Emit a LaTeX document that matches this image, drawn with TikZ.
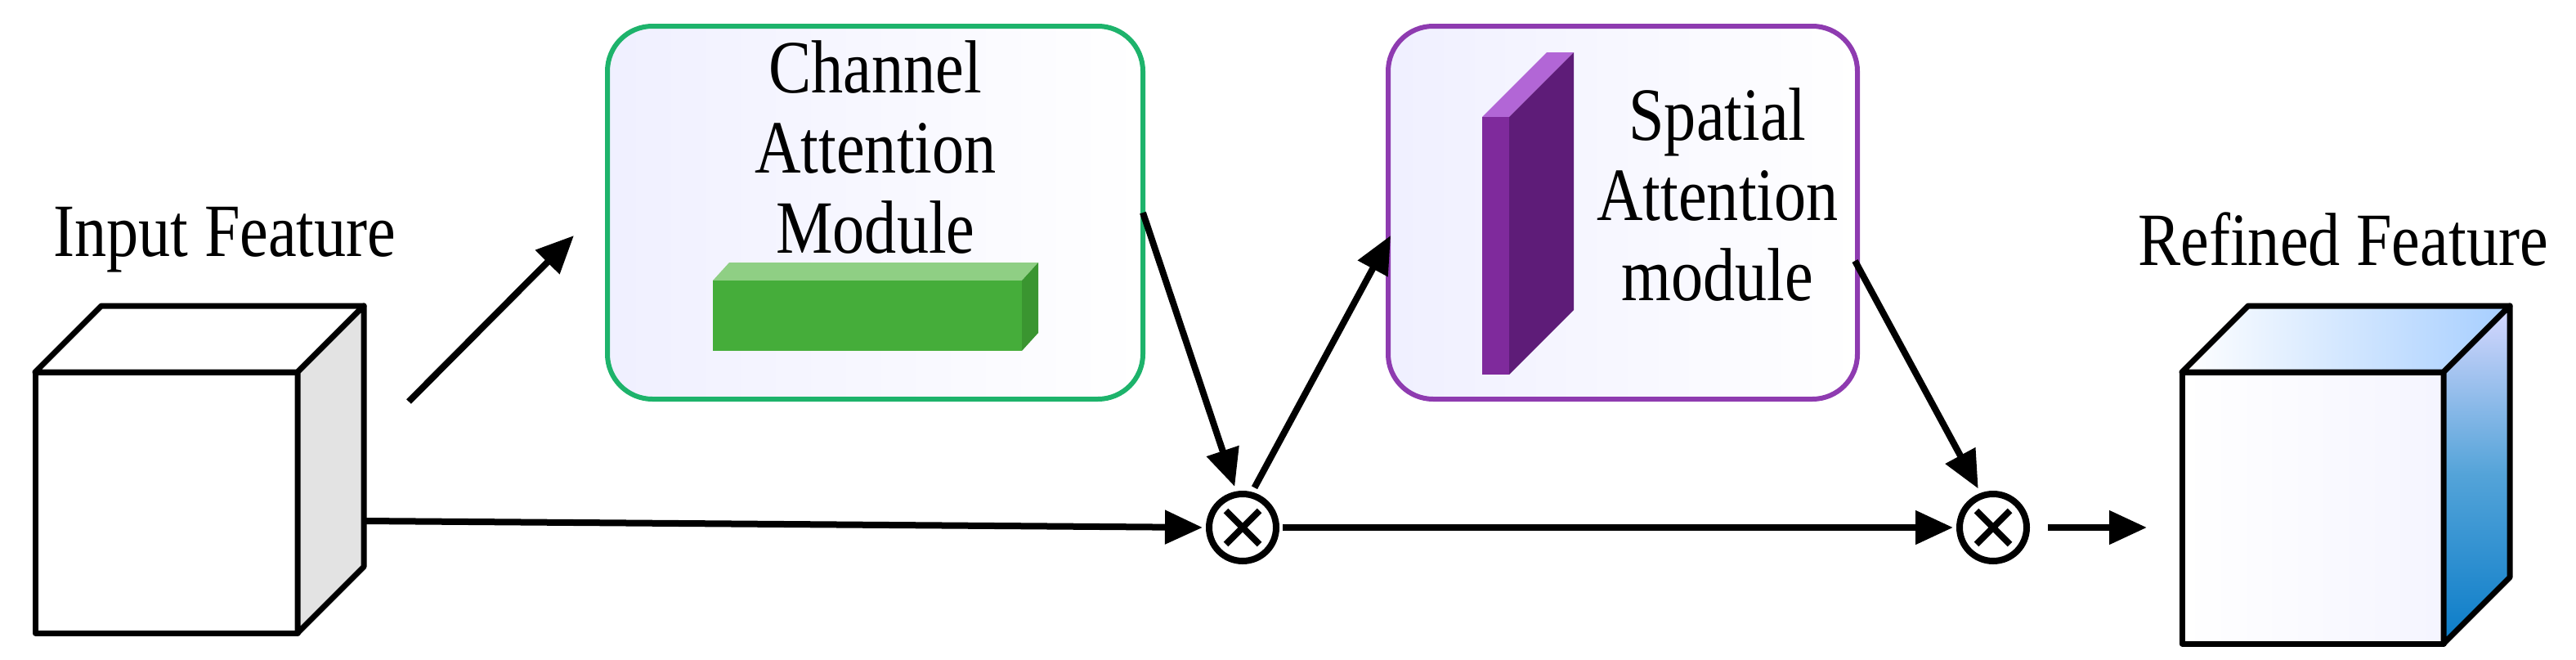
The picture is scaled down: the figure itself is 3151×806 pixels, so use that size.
\documentclass[tikz,border=0pt]{standalone}
\usepackage{fontspec}
\setmainfont{Liberation Serif}
\usetikzlibrary{arrows.meta,calc}
\definecolor{cagreen}{HTML}{1DB36B}
\definecolor{sapurple}{HTML}{8E3BB0}
\definecolor{bargreen}{HTML}{45AD3A}
\definecolor{bartop}{HTML}{8FCF84}
\definecolor{barside}{HTML}{3A9530}
\definecolor{slabfront}{HTML}{7F2A9C}
\definecolor{slabside}{HTML}{5E1C78}
\definecolor{slabtop}{HTML}{B266D6}
\definecolor{cubeblue}{HTML}{0A7CC8}
\begin{document}
\begin{tikzpicture}[x=1pt,y=-1pt,
  conn/.style={line width=8pt,-{Triangle[length=46pt,width=40pt]}},
  module/.style={rounded corners=55pt,line width=6pt,left color=blue!6,right color=white},
  lbl/.style={font=\fontsize{92}{98}\selectfont,align=center,inner sep=0pt,xscale=0.85},
  mult/.style={circle,draw,line width=8pt,minimum size=82pt,inner sep=0pt,
    path picture={\draw[line width=8pt] ($(path picture bounding box.south west)!0.25!(path picture bounding box.north east)$) -- ($(path picture bounding box.south west)!0.75!(path picture bounding box.north east)$);
    \draw[line width=8pt] ($(path picture bounding box.north west)!0.25!(path picture bounding box.south east)$) -- ($(path picture bounding box.north west)!0.75!(path picture bounding box.south east)$);}},
  edge/.style={line width=7pt,line join=round}]
\useasboundingbox (0,0) rectangle (3151,806);
% input cube
\filldraw[edge,fill=white] (43,455) rectangle (364,774);
\filldraw[edge,fill=white] (43,455) -- (124,374) -- (445,374) -- (364,455) -- cycle;
\filldraw[edge,fill=black!11] (364,455) -- (445,374) -- (445,693) -- (364,774) -- cycle;
\coordinate (inR) at (445,637);
\node[lbl] (inlbl) at (275,293) {Input Feature};
% channel module
\draw[module,draw=cagreen] (743,32) rectangle (1398,488);
\node[lbl] (catext) at (1071,180) {Channel\\Attention\\Module};
\fill[bartop] (872,343) -- (892,321) -- (1270,321) -- (1250,343) -- cycle;
\fill[barside] (1250,343) -- (1270,321) -- (1270,407) -- (1250,429) -- cycle;
\fill[bargreen] (872,343) rectangle (1250,429);
% spatial module
\draw[module,draw=sapurple] (1698,32) rectangle (2272,488);
\fill[slabtop] (1813,143) -- (1892,64) -- (1925,64) -- (1846,143) -- cycle;
\fill[slabside] (1846,143) -- (1925,64) -- (1925,379) -- (1846,458) -- cycle;
\fill[slabfront] (1813,143) rectangle (1846,458);
\node[lbl] (satext) at (2101,238) {Spatial\\Attention\\module};
% multipliers
\node[mult] (m1) at (1520,645) {};
\node[mult] (m2) at (2438,645) {};
% refined cube
\shade[left color=white,right color=blue!4] (2669,455) rectangle (2989,787);
\draw[edge] (2669,455) rectangle (2989,787);
\shade[left color=white,right color=cyan!45!blue!35] (2669,455) -- (2750,374) -- (3070,374) -- (2989,455) -- cycle;
\draw[edge] (2669,455) -- (2750,374) -- (3070,374) -- (2989,455) -- cycle;
\shade[top color=blue!15,bottom color=cubeblue,middle color=cubeblue!70] (2989,455) -- (3070,374) -- (3070,706) -- (2989,787) -- cycle;
\draw[edge] (2989,455) -- (3070,374) -- (3070,706) -- (2989,787) -- cycle;
\node[lbl] (rflbl) at (2866,293) {Refined Feature};
\coordinate (rfL) at (2626,645);
% connectors
\coordinate (a1s) at (500,491);
\coordinate (a1e) at (702,288);
\draw[conn] (a1s) -- (a1e);
\coordinate (camR) at (1398,260);
\draw[conn,shorten >=6pt] (camR) -- (m1.100);
\draw[conn,shorten >=4pt] (inR) -- (m1.west);
\coordinate (samL) at (1701,288);
\draw[conn,shorten <=6pt] (m1.75) -- (samL);
\coordinate (samR) at (2269,319);
\draw[conn,shorten >=6pt] (samR) -- (m2.110);
\draw[conn,shorten >=4pt,shorten <=4pt] (m1.east) -- (m2.west);
\draw[conn,shorten <=22pt] (m2.east) -- (rfL);
\end{tikzpicture}
\end{document}
